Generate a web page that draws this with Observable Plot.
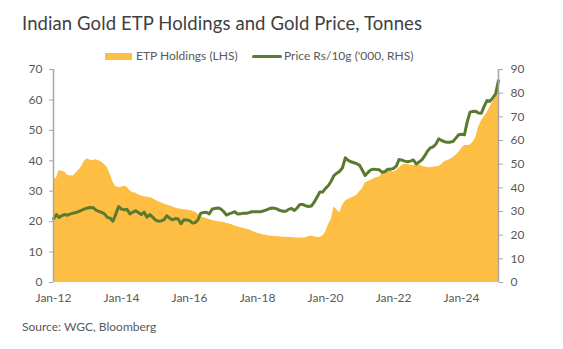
<!DOCTYPE html>
<html><head><meta charset="utf-8">
<script src="https://cdn.jsdelivr.net/npm/d3@7"></script>
<script src="https://cdn.jsdelivr.net/npm/@observablehq/plot@0.6"></script>
<style>
body{margin:0;background:#fff;font-family:Lato, "Open Sans", sans-serif;}
#wrap{position:relative;width:563px;height:349px;overflow:hidden;background:#fff;}
#title{position:absolute;left:22px;top:14px;font-size:18.5px;line-height:18.5px;color:#404040;white-space:nowrap;letter-spacing:0.1px;}
.lg{position:absolute;font-size:12px;line-height:14px;color:#595959;white-space:nowrap;}
#chart{position:absolute;left:0;top:60px;}
#source{position:absolute;left:22px;top:320px;font-size:12px;line-height:14px;color:#595959;white-space:nowrap;}
</style>
</head><body>
<div id="wrap">
  <div id="title">Indian Gold ETP Holdings and Gold Price, Tonnes</div>
  <div style="position:absolute;left:105px;top:53px;width:27px;height:7px;background:#FEBD43"></div>
  <div class="lg" style="left:136px;top:49px">ETP Holdings (LHS)</div>
  <div style="position:absolute;left:252px;top:55px;width:30px;height:3px;border-radius:1.5px;background:#5A7A30"></div>
  <div class="lg" style="left:284px;top:49px">Price Rs/10g ('000, RHS)</div>
  <div id="chart"></div>
  <div id="source">Source: WGC, Bloomberg</div>
</div>
<script>
// Monthly data, Jan 2012 – Feb 2025
const startMonth = "2012-01";
// Indian gold ETP holdings, tonnes (left axis)
const etpHoldings = [
  34.1,34.2,36.8,36.5,36.3,35.2,35.1,35.0,36.0,37.0,38.2,40.0,
  40.7,40.2,40.1,40.3,40.0,39.6,38.8,37.8,35.5,33.0,31.5,31.2,
  31.3,31.6,31.3,30.2,29.5,29.4,28.8,28.4,28.2,28.0,27.9,27.6,
  27.0,26.5,26.2,25.8,25.5,25.2,24.9,24.5,24.2,24.1,23.9,23.8,
  23.7,23.5,23.2,22.5,21.6,21.3,21.0,20.7,20.4,20.2,20.0,19.9,
  19.7,19.5,19.2,19.0,18.6,18.3,18.0,17.8,17.5,17.3,16.9,16.5,
  16.2,15.9,15.7,15.5,15.3,15.2,15.1,15.0,15.0,14.9,14.9,14.8,
  14.8,14.7,14.6,14.6,14.6,14.7,15.0,15.3,15.0,14.8,14.9,15.2,
  16.5,19.0,20.5,24.8,24.0,22.8,25.3,26.7,27.3,27.7,28.2,28.6,
  29.8,30.8,32.6,33.2,33.5,34.1,34.4,34.7,35.6,36.2,37.0,36.7,
  36.3,36.8,37.6,38.5,38.8,38.8,38.6,38.4,38.6,38.8,38.2,38.0,
  37.7,37.7,37.9,38.0,38.1,38.8,39.6,40.1,40.4,41.0,41.8,42.7,
  44.0,45.0,45.0,45.1,46.0,47.5,51.0,53.0,54.5,55.8,57.6,59.2,
  61.0,63.5
];
// Gold price, Rs/10g ('000) (right axis)
const goldPrice = [
  26.9,28.7,27.5,28.3,28.7,28.4,29.0,29.3,29.6,30.1,30.6,31.1,
  31.5,31.7,31.6,30.6,30.1,29.6,29.0,27.5,27.2,25.9,29.0,32.1,
  31.0,30.7,30.9,29.0,29.7,30.3,29.6,28.7,29.7,27.6,28.7,27.6,
  26.4,25.9,26.0,26.5,28.2,27.2,26.5,27.0,26.8,24.8,26.5,26.4,
  26.2,25.1,25.3,26.5,29.3,29.6,29.7,29.0,31.1,31.3,31.5,31.1,
  30.0,28.5,29.0,29.4,29.9,28.9,29.0,29.3,29.3,29.5,29.9,29.9,
  29.9,29.9,30.2,30.6,31.1,31.5,31.4,31.0,30.4,30.1,30.1,30.9,
  31.3,30.4,31.5,33.0,33.0,32.4,32.1,32.3,33.9,36.0,38.2,38.2,
  39.8,41.0,42.8,45.2,46.2,47.0,48.5,52.7,51.6,51.0,50.6,50.2,
  49.5,47.3,45.2,46.5,47.6,47.9,47.7,47.6,46.5,46.9,47.9,47.9,
  48.2,49.3,52.0,51.7,51.3,51.0,51.3,51.8,50.1,50.9,51.8,53.5,
  55.6,56.9,57.3,58.5,60.7,60.0,59.5,59.3,59.3,59.6,61.0,62.4,
  62.6,62.4,67.7,72.0,72.3,72.4,71.6,71.5,74.5,76.9,76.6,78.0,
  79.7,85.3
];
const leftTicks = [0,10,20,30,40,50,60,70];
const rightTicks = [0,10,20,30,40,50,60,70,80,90];
const xTickYears = [2012,2014,2016,2018,2020,2022,2024];

const LMAX = 70, RMAX = 90;
const toLeft = v => v * LMAX / RMAX;
const t0 = d3.utcParse("%Y-%m")(startMonth);
const data = etpHoldings.map((v, i) => ({
  date: d3.utcMonth.offset(t0, i), etp: v, price: goldPrice[i]
}));
const first = data[0].date, last = data[data.length - 1].date;
const axisColor = "#A6A6A6", textColor = "#595959";

const chart = Plot.plot({
  width: 563, height: 250,
  marginTop: 9, marginBottom: 28, marginLeft: 53, marginRight: 65,
  style: {fontFamily: "Lato, sans-serif", fontSize: "12px", color: textColor, background: "transparent"},
  x: {type: "utc", domain: [first, last]},
  y: {domain: [0, LMAX]},
  marks: [
    Plot.areaY(data, {x: "date", y: "etp", fill: "#FEBD43", curve: "linear"}),
    Plot.lineY(data, {x: "date", y: d => toLeft(d.price), stroke: "#5A7A30", strokeWidth: 3, strokeLinejoin: "round", strokeLinecap: "round"}),
    Plot.ruleX([first], {y1: 0, y2: LMAX, stroke: axisColor, strokeWidth: 1.5}),
    Plot.ruleX([last], {y1: 0, y2: LMAX, stroke: axisColor, strokeWidth: 1.5}),
    Plot.axisY(leftTicks, {anchor: "left", tickSize: 4, tickPadding: 7, stroke: axisColor, fill: textColor, label: null}),
    Plot.axisY(rightTicks.map(toLeft), {anchor: "right", tickSize: 4, tickPadding: 8, stroke: axisColor, fill: textColor, label: null,
      tickFormat: d => String(Math.round(d * RMAX / LMAX))}),
    Plot.axisX(xTickYears.map(y => new Date(Date.UTC(y, 0, 1))), {tickSize: 0, tickPadding: 11, fill: textColor, label: null,
      tickFormat: d3.utcFormat("%b-%y")})
  ]
});
document.getElementById("chart").appendChild(chart);
</script>
</body></html>
